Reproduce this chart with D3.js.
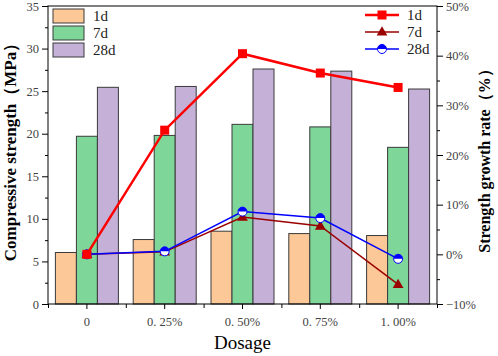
<!DOCTYPE html>
<html>
<head>
<meta charset="utf-8">
<script src="https://cdn.jsdelivr.net/npm/d3@7"></script>
<style>
  body { margin: 0; background: #fff; }
  text { font-family: 'Liberation Serif', 'DejaVu Serif', serif; }
</style>
</head>
<body>
<svg width="498" height="356"></svg>
<script>
const dosages = ['0', '0. 25%', '0. 50%', '0. 75%', '1. 00%'];
const ages = ['1d', '7d', '28d'];
const strength1d = [6.05, 7.57, 8.55, 8.27, 8.04];
const strength7d = [19.7, 19.8, 21.1, 20.8, 18.4];
const strength28d = [25.45, 25.55, 27.6, 27.35, 25.25];
const growth1d = [0, 25.0, 40.4, 36.5, 33.6];
const growth7d = [0, 0.5, 7.5, 5.7, -6.05];
const growth28d = [0, 0.6, 8.6, 7.3, -0.9];

const barColors = ['#fdc897', '#7fd699', '#c5b0d8'];
const lineColors = ['#ff0000', '#9b0000', '#0000ff'];

const svg = d3.select('svg');
const margin = { top: 6, right: 61, bottom: 52, left: 48 };
const width = +svg.attr('width');
const height = +svg.attr('height');
const innerWidth = width - margin.left - margin.right;
const innerHeight = height - margin.top - margin.bottom;

const g = svg.append('g')
  .attr('transform', `translate(${margin.left},${margin.top})`);

const xScale = d3.scaleBand()
  .domain(dosages)
  .range([0, innerWidth]);

const xInner = d3.scaleBand()
  .domain(ages)
  .range([0, 63]);

const yScale = d3.scaleLinear()
  .domain([0, 35])
  .range([innerHeight, 0]);

const y2Scale = d3.scaleLinear()
  .domain([-10, 50])
  .range([innerHeight, 0]);

const barSeries = [strength1d, strength7d, strength28d];
const lineSeries = [growth1d, growth7d, growth28d];

// bars
ages.forEach((age, i) => {
  g.append('g').selectAll('rect')
    .data(barSeries[i])
    .join('rect')
    .attr('x', (d, j) => xScale(dosages[j]) + xScale.bandwidth() / 2 - 31.5 + xInner(age))
    .attr('y', d => yScale(d))
    .attr('width', xInner.bandwidth())
    .attr('height', d => innerHeight - yScale(d))
    .attr('fill', barColors[i])
    .attr('stroke', '#3a3a3a')
    .attr('stroke-width', 1);
});

// frame
g.append('rect')
  .attr('width', innerWidth)
  .attr('height', innerHeight)
  .attr('fill', 'none')
  .attr('stroke', '#000')
  .attr('stroke-width', 1);

// axes
const tickStyle = sel => {
  sel.selectAll('.domain').remove();
  sel.selectAll('text')
    .attr('fill', '#444')
    .style('font-size', '12.5px')
    .style('font-family', "'Liberation Serif', serif");
};

const yAxisG = g.append('g')
  .call(d3.axisLeft(yScale).tickValues(d3.range(0, 36, 5)).tickSize(6).tickPadding(3));
tickStyle(yAxisG);
g.append('g')
  .call(d3.axisLeft(yScale).tickValues(d3.range(2.5, 35, 5)).tickSize(3).tickFormat(''))
  .select('.domain').remove();

const y2AxisG = g.append('g')
  .attr('transform', `translate(${innerWidth},0)`)
  .call(d3.axisRight(y2Scale).tickValues(d3.range(-10, 51, 10)).tickSize(6).tickPadding(3)
    .tickFormat(d => (d < 0 ? '\u2212' + (-d) : d) + '%'));
tickStyle(y2AxisG);
g.append('g')
  .attr('transform', `translate(${innerWidth},0)`)
  .call(d3.axisRight(y2Scale).tickValues(d3.range(-5, 50, 10)).tickSize(3).tickFormat(''))
  .select('.domain').remove();

const xAxisG = g.append('g')
  .attr('transform', `translate(0,${innerHeight})`)
  .call(d3.axisBottom(xScale).tickSize(5).tickPadding(8));
tickStyle(xAxisG);
g.append('g')
  .attr('transform', `translate(0,${innerHeight})`)
  .call(d3.axisBottom(d3.scaleLinear().domain([0, 5]).range([0, innerWidth]))
    .tickValues(d3.range(0, 6)).tickSize(4).tickFormat(''))
  .select('.domain').remove();

g.selectAll('.tick line').attr('stroke', '#000');

// lines
const lineGen = d3.line()
  .x((d, j) => xScale(dosages[j]) + xScale.bandwidth() / 2)
  .y(d => y2Scale(d));

const drawMarker = (sel, i, x, y) => {
  if (i === 0) {
    sel.append('rect')
      .attr('x', x - 4.5).attr('y', y - 4.5)
      .attr('width', 9).attr('height', 9)
      .attr('fill', lineColors[0]);
  } else if (i === 1) {
    sel.append('path')
      .attr('d', d3.symbol(d3.symbolTriangle, 50)())
      .attr('transform', `translate(${x},${y + 0.5})`)
      .attr('fill', lineColors[1]);
  } else {
    sel.append('circle')
      .attr('cx', x).attr('cy', y).attr('r', 4.5)
      .attr('fill', '#fff')
      .attr('stroke', lineColors[2]).attr('stroke-width', 1);
    sel.append('path')
      .attr('d', `M${x - 4.5},${y} A4.5,4.5 0 0 1 ${x + 4.5},${y} Z`)
      .attr('fill', lineColors[2]);
  }
};

[1, 2, 0].forEach(i => {
  g.append('path')
    .attr('d', lineGen(lineSeries[i]))
    .attr('fill', 'none')
    .attr('stroke', lineColors[i])
    .attr('stroke-width', i === 0 ? 2.5 : 1.5);
  const mg = g.append('g');
  lineSeries[i].forEach((v, j) => {
    drawMarker(mg, i, xScale(dosages[j]) + xScale.bandwidth() / 2, y2Scale(v));
  });
});

// legend - bars
const legend1 = g.append('g').attr('transform', 'translate(5,3)');
ages.forEach((age, i) => {
  legend1.append('rect')
    .attr('x', 0).attr('y', i * 17)
    .attr('width', 31).attr('height', 14)
    .attr('fill', barColors[i])
    .attr('stroke', '#3a3a3a');
  legend1.append('text')
    .attr('x', 40).attr('y', i * 17 + 12)
    .style('font-size', '15px')
    .attr('fill', '#222')
    .text(age);
});

// legend - lines
const legend2 = g.append('g').attr('transform', 'translate(317,9)');
ages.forEach((age, i) => {
  legend2.append('line')
    .attr('x1', 0).attr('x2', 34)
    .attr('y1', i * 17).attr('y2', i * 17)
    .attr('stroke', lineColors[i])
    .attr('stroke-width', i === 0 ? 2.5 : 1.5);
  drawMarker(legend2, i, 17, i * 17);
  legend2.append('text')
    .attr('x', 42).attr('y', i * 17 + 5)
    .style('font-size', '15px')
    .attr('fill', '#222')
    .text(age);
});

// axis titles
svg.append('text')
  .attr('transform', 'translate(16,148) rotate(-90)')
  .attr('text-anchor', 'middle')
  .style('font-size', '17px')
  .style('font-weight', 'bold')
  .text('Compressive strength（MPa）');

svg.append('text')
  .attr('transform', 'translate(490,157) rotate(-90)')
  .attr('text-anchor', 'middle')
  .style('font-size', '16px')
  .style('font-weight', 'bold')
  .text('Strength growth rate（%）');

svg.append('text')
  .attr('x', margin.left + innerWidth / 2)
  .attr('y', 349)
  .attr('text-anchor', 'middle')
  .style('font-size', '19px')
  .text('Dosage');
</script>
</body>
</html>
